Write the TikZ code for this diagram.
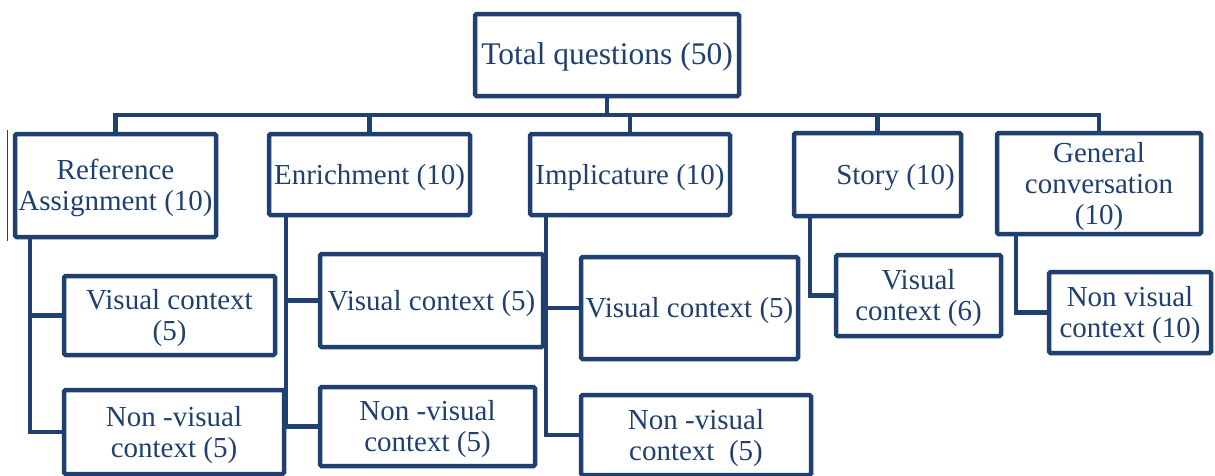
\documentclass[tikz,border=0pt]{standalone}
\usepackage{fontspec}
\setmainfont{Liberation Serif}
\definecolor{navy}{RGB}{31,64,112}
\tikzset{
  strutted/.style={execute at begin node={\rule{0pt}{#1}}},
  box/.style={draw=navy, line width=4.5pt, rounded corners=1.5pt, inner sep=0pt,
    align=center, text=navy, fill=white, font=\fontsize{29}{31}\selectfont,
    strutted=26pt},
  twolines/.style={box, strutted=57pt},
  threelines/.style={box, strutted=88pt},
  link/.style={draw=navy, line width=4.5pt},
}
\begin{document}
\begin{tikzpicture}[x=1pt, y=-1pt]
  \useasboundingbox (0,0) rectangle (1215,475);
  \clip (0,0) rectangle (1215,475);

  % ---- root ----
  \node[box, minimum width=264pt, minimum height=82pt,
    font=\fontsize{31.5}{33}\selectfont] (total) at (607,55) {Total questions (50)};

  % ---- question types ----
  \node[twolines, minimum width=201pt, minimum height=103pt] (ref) at (115.5,185.5) {Reference\\Assignment (10)};
  \node[box, minimum width=201pt, minimum height=81pt] (enr) at (369.5,174.5) {Enrichment (10)};
  \node[box, minimum width=200pt, minimum height=81pt] (imp) at (630,174.5) {Implicature (10)};
  \node[box, minimum width=167pt, minimum height=83pt] (story) at (877.5,174.5) {\hspace*{36pt}Story (10)};
  \node[threelines, minimum width=204pt, minimum height=101pt] (gen) at (1099,183.5) {General\\conversation\\(10)};

  % ---- contexts ----
  \node[twolines, minimum width=211pt, minimum height=79pt] (refvis) at (169.5,315.5) {Visual context\\(5)};
  \node[twolines, minimum width=220pt, minimum height=84pt] (refnon) at (174,432) {Non -visual\\context (5)};
  \node[box, minimum width=223pt, minimum height=93pt] (enrvis) at (431.5,300.5) {Visual context (5)};
  \node[twolines, minimum width=215pt, minimum height=79pt] (enrnon) at (427.5,426.5) {Non -visual\\context (5)};
  \node[box, minimum width=217pt, minimum height=102pt] (impvis) at (689.5,308) {Visual context (5)};
  \node[twolines, minimum width=230pt, minimum height=80pt] (impnon) at (696,435) {Non -visual\\context\ \ (5)};
  \node[twolines, minimum width=165pt, minimum height=81pt] (storyvis) at (918.5,295.5) {Visual\\context (6)};
  \node[twolines, minimum width=162pt, minimum height=81pt] (gennon) at (1130,312.5) {Non visual\\context (10)};

  % ---- bus from the root ----
  \coordinate (bus) at (607,115);
  \draw[link] (total.south) -- (bus);
  \draw[link] (ref.north) |- (bus) -| (gen.north);
  \foreach \n in {enr,imp,story}
    \draw[link] (\n.north) -- (\n.north |- bus);

  % ---- trunks down to the contexts ----
  \draw[link] ([xshift=17pt]ref.south west) |- (refvis.west);
  \draw[link] ([xshift=17pt]ref.south west) |- (refnon.west);
  \draw[link] ([xshift=19pt]enr.south west) |- (enrvis.west);
  \draw[link] ([xshift=19pt]enr.south west) |- (enrnon.west);
  \draw[link] ([xshift=18pt]imp.south west) |- (impvis.west);
  \draw[link] ([xshift=18pt]imp.south west) |- (impnon.west);
  \draw[link] ([xshift=18pt]story.south west) |- (storyvis.west);
  \draw[link] ([xshift=21pt]gen.south west) |- (gennon.west);

  % thin double edge left of the first box
  \draw[navy, line width=0.8pt] ([shift={(-5pt,2pt)}]ref.north west) -- ([shift={(-5pt,-2pt)}]ref.south west);

\end{tikzpicture}
\end{document}
